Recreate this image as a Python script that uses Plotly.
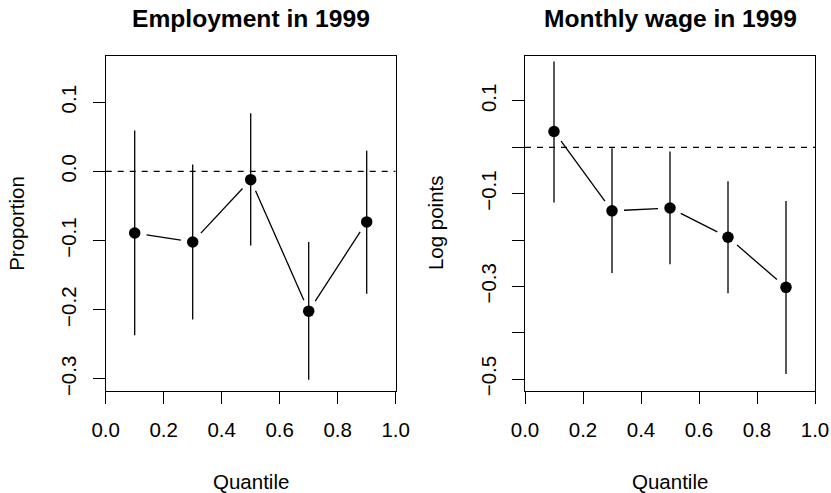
import numpy as np
import plotly.graph_objects as go

# ---------------- data ----------------
quantiles = [0.1, 0.3, 0.5, 0.7, 0.9]

emp_est = [-0.089, -0.102, -0.012, -0.202, -0.073]
emp_lo = [-0.237, -0.214, -0.107, -0.301, -0.177]
emp_hi = [0.059, 0.010, 0.084, -0.102, 0.030]

wage_est = [0.034, -0.137, -0.131, -0.194, -0.302]
wage_lo = [-0.119, -0.271, -0.252, -0.315, -0.489]
wage_hi = [0.185, -0.002, -0.009, -0.073, -0.116]

x_tickvals = [0.0, 0.2, 0.4, 0.6, 0.8, 1.0]
x_ticktext = ["0.0", "0.2", "0.4", "0.6", "0.8", "1.0"]
emp_tickvals = [-0.3, -0.2, -0.1, 0.0, 0.1]
emp_ticktext = ["\u22120.3", "\u22120.2", "\u22120.1", "0.0", "0.1"]
wage_tickvals = [-0.5, -0.4, -0.3, -0.2, -0.1, 0.0, 0.1]
wage_ticktext = ["\u22120.5", "", "\u22120.3", "", "\u22120.1", "", "0.1"]

titles = ["Employment in 1999", "Monthly wage in 1999"]
ylabels = ["Proportion", "Log points"]
xlabel = "Quantile"

# ---------------- layout geometry (pixels) ----------------
W, H = 831, 493
FONT = "Liberation Sans, Arial, Helvetica, sans-serif"
FS = 20.5
LW = 1.3
boxes = [(105.7, 55.5, 395.7, 390.7), (525.0, 55.5, 815.0, 390.7)]
xrange_ = [0.0, 1.0]
yranges = [[-0.317, 0.1675], [-0.525, 0.198]]
GAP = 12.0  # px gap around points (R type="b")

fig = go.Figure()


def gapped_segments(xs, ys, box, xr, yr):
    x0, y0, x1, y1 = box
    sx = (x1 - x0) / (xr[1] - xr[0])
    sy = (y1 - y0) / (yr[1] - yr[0])
    px = x0 + (np.array(xs) - xr[0]) * sx
    py = y1 - (np.array(ys) - yr[0]) * sy
    outx, outy = [], []
    for i in range(len(xs) - 1):
        dx, dy = px[i + 1] - px[i], py[i + 1] - py[i]
        L = np.hypot(dx, dy)
        if L <= 2 * GAP:
            continue
        ux, uy = dx / L, dy / L
        ax, ay = px[i] + ux * GAP, py[i] + uy * GAP
        bx, by = px[i + 1] - ux * GAP, py[i + 1] - uy * GAP
        for qx, qy in ((ax, ay), (bx, by)):
            outx.append(xr[0] + (qx - x0) / sx)
            outy.append(yr[0] + (y1 - qy) / sy)
        outx.append(None)
        outy.append(None)
    return outx, outy


panels = [
    (emp_est, emp_lo, emp_hi, emp_tickvals, emp_ticktext),
    (wage_est, wage_lo, wage_hi, wage_tickvals, wage_ticktext),
]

for k, (est, lo, hi, tv, tt) in enumerate(panels):
    xa = "x" if k == 0 else "x2"
    ya = "y" if k == 0 else "y2"
    box = boxes[k]
    yr = yranges[k]
    # zero reference line
    fig.add_trace(go.Scatter(x=xrange_, y=[0, 0], mode="lines", xaxis=xa, yaxis=ya,
                             line=dict(color="black", width=LW, dash="6px,6px"),
                             hoverinfo="skip", showlegend=False))
    # connecting line with gaps
    gx, gy = gapped_segments(quantiles, est, box, xrange_, yr)
    fig.add_trace(go.Scatter(x=gx, y=gy, mode="lines", xaxis=xa, yaxis=ya,
                             line=dict(color="black", width=LW),
                             hoverinfo="skip", showlegend=False))
    # points with confidence intervals
    fig.add_trace(go.Scatter(
        x=quantiles, y=est, mode="markers", xaxis=xa, yaxis=ya,
        marker=dict(color="black", size=11.5, symbol="circle"),
        error_y=dict(type="data", symmetric=False,
                     array=[h - e for h, e in zip(hi, est)],
                     arrayminus=[e - l for e, l in zip(est, lo)],
                     color="black", thickness=LW, width=0),
        showlegend=False))

axis_common = dict(showline=True, mirror=True, linecolor="black", linewidth=LW,
                   ticks="outside", ticklen=12, tickwidth=LW, tickcolor="black",
                   showgrid=False, zeroline=False, automargin=False,
                   tickfont=dict(family=FONT, size=FS, color="black"))

layout = dict(width=W, height=H, margin=dict(l=0, r=0, t=0, b=0, pad=0),
              plot_bgcolor="white", paper_bgcolor="white", showlegend=False)

for k in range(2):
    x0, y0, x1, y1 = boxes[k]
    xd = [x0 / W, x1 / W]
    yd = [1 - y1 / H, 1 - y0 / H]
    xname = "xaxis" if k == 0 else "xaxis2"
    yname = "yaxis" if k == 0 else "yaxis2"
    layout[xname] = dict(axis_common, domain=xd, range=xrange_, tickmode="array",
                         tickvals=x_tickvals, ticktext=x_ticktext,
                         ticklabelstandoff=9,
                         anchor="y" if k == 0 else "y2")
    layout[yname] = dict(axis_common, domain=yd, range=yranges[k], tickmode="array",
                         tickvals=panels[k][3], ticktext=panels[k][4], tickangle=-90,
                         ticklabelstandoff=8,
                         anchor="x" if k == 0 else "x2")

fig.update_layout(**layout)

# titles and axis labels
ann = []
for k in range(2):
    x0, y0, x1, y1 = boxes[k]
    cx = (x0 + x1) / 2
    cy = (y0 + y1) / 2
    ann.append(dict(x=cx / W, y=1 - 19 / H, xref="paper", yref="paper",
                    text="<b>%s</b>" % titles[k], showarrow=False,
                    xanchor="center", yanchor="middle",
                    font=dict(family=FONT, size=24.6, color="black")))
    ann.append(dict(x=cx / W, y=1 - 481 / H, xref="paper", yref="paper",
                    text=xlabel, showarrow=False, xanchor="center", yanchor="middle",
                    font=dict(family=FONT, size=FS, color="black")))
    ann.append(dict(x=(x0 - 90) / W, y=1 - cy / H, xref="paper", yref="paper",
                    text=ylabels[k], showarrow=False, textangle=-90,
                    xanchor="center", yanchor="middle",
                    font=dict(family=FONT, size=FS, color="black")))
fig.update_layout(annotations=ann)

fig.write_html("out.html", config={"displayModeBar": False},
               post_script="document.body.style.margin='0';document.body.style.overflow='hidden';")
